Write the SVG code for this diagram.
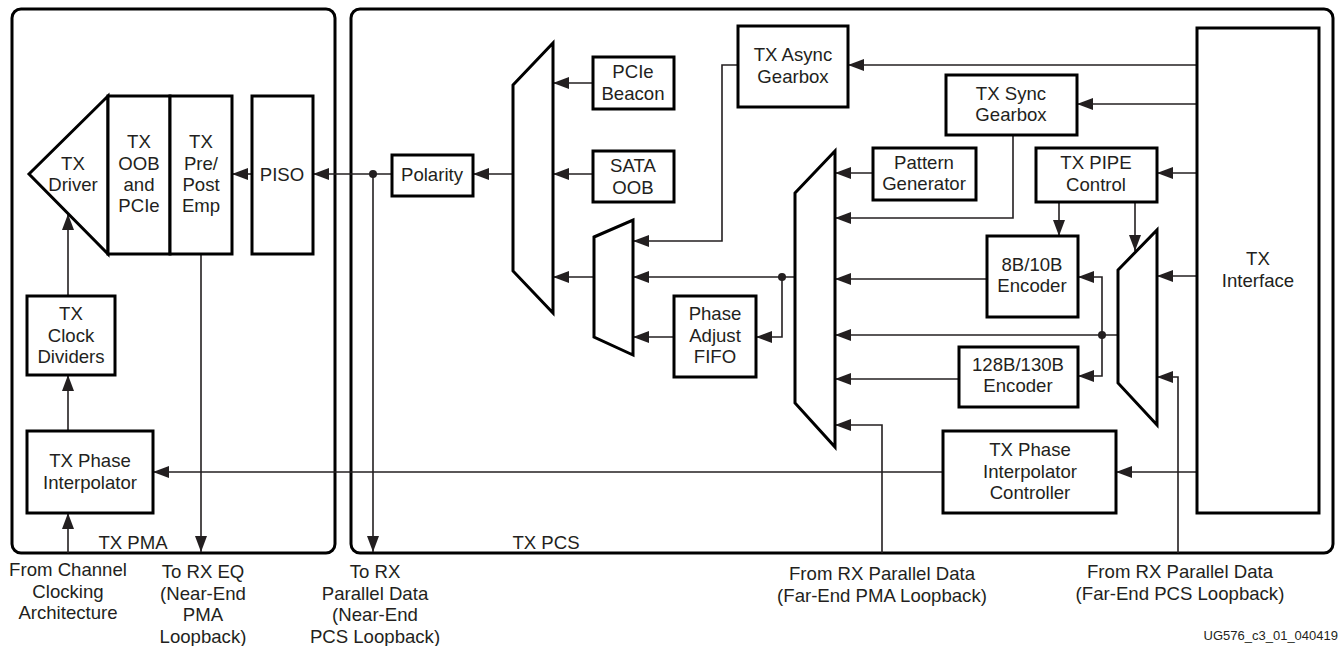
<svg xmlns="http://www.w3.org/2000/svg" width="1343" height="646" viewBox="0 0 1343 646">
<style>
.c{fill:none;stroke:#000;stroke-width:3}
.b{fill:#fff;stroke:#000;stroke-width:3}
.w{fill:none;stroke:#231f20;stroke-width:1.6}
text{font-family:"Liberation Sans",Arial,sans-serif;font-size:18.6px;fill:#231f20;text-anchor:middle}
.dot{fill:#231f20}
</style>
<defs>
<marker id="ah" markerUnits="userSpaceOnUse" markerWidth="16" markerHeight="12" refX="16" refY="6" orient="auto">
<path d="M0,0 L16,6 L0,12 z" fill="#231f20"/>
</marker>
</defs>
<rect width="1343" height="646" fill="#fff"/>
<g id="pma">
<rect class="c" x="12" y="9" width="323" height="544" rx="9"/>
<text x="133" y="549">TX PMA</text>
</g>
<g id="pcs">
<rect class="c" x="351" y="9" width="982" height="544" rx="9"/>
<text x="546" y="549">TX PCS</text>
</g>
<g id="connectors">
<path class="w" marker-end="url(#ah)" d="M392,174 L313,174"/>
<path class="w" marker-end="url(#ah)" d="M513,174 L473,174"/>
<path class="w" marker-end="url(#ah)" d="M252,174 L232,174"/>
<path class="w" marker-end="url(#ah)" d="M201,254 L201,552"/>
<path class="w" marker-end="url(#ah)" d="M373,174 L373,552"/>
<circle class="dot" cx="373" cy="174" r="4"/>
<path class="w" marker-end="url(#ah)" d="M68,296 L68,214"/>
<path class="w" marker-end="url(#ah)" d="M68,431 L68,375"/>
<path class="w" marker-end="url(#ah)" d="M68,553 L68,513"/>
<path class="w" marker-end="url(#ah)" d="M593,83 L553,83"/>
<path class="w" marker-end="url(#ah)" d="M593,174 L553,174"/>
<path class="w" marker-end="url(#ah)" d="M594,277 L553,277"/>
<path class="w" marker-end="url(#ah)" d="M738,65 L722,65 L722,241 L633,241"/>
<path class="w" marker-end="url(#ah)" d="M1197,65 L848,65"/>
<path class="w" marker-end="url(#ah)" d="M1197,104 L1077,104"/>
<path class="w" marker-end="url(#ah)" d="M1013,135 L1013,218 L835,218"/>
<path class="w" marker-end="url(#ah)" d="M873,173 L835,173"/>
<path class="w" marker-end="url(#ah)" d="M795,277 L633,277"/>
<circle class="dot" cx="782" cy="277" r="4"/>
<path class="w" marker-end="url(#ah)" d="M782,277 L782,337 L756,337"/>
<path class="w" marker-end="url(#ah)" d="M674,337 L633,337"/>
<path class="w" marker-end="url(#ah)" d="M987,279 L835,279"/>
<path class="w" marker-end="url(#ah)" d="M1118,335 L835,335"/>
<circle class="dot" cx="1102" cy="335" r="4"/>
<path class="w" marker-end="url(#ah)" d="M1102,335 L1102,277 L1078,277"/>
<path class="w" marker-end="url(#ah)" d="M1102,335 L1102,376 L1078,376"/>
<path class="w" marker-end="url(#ah)" d="M959,379 L835,379"/>
<path class="w" marker-end="url(#ah)" d="M882,553 L882,425 L835,425"/>
<path class="w" marker-end="url(#ah)" d="M1197,173 L1157,173"/>
<path class="w" marker-end="url(#ah)" d="M1059,202 L1059,236"/>
<path class="w" marker-end="url(#ah)" d="M1135,202 L1135,251"/>
<path class="w" marker-end="url(#ah)" d="M1197,276 L1157,276"/>
<path class="w" marker-end="url(#ah)" d="M1178,553 L1178,377 L1157,377"/>
<path class="w" marker-end="url(#ah)" d="M1197,472 L1116,472"/>
<path class="w" marker-end="url(#ah)" d="M943,472 L153,472"/>
</g>
<g id="tx-driver">
<polygon class="b" points="29,174 108,96 108,254"/>
<text x="73" y="170">TX</text>
<text x="73" y="191">Driver</text>
</g>
<g id="tx-oob">
<rect class="b" x="108" y="96" width="62" height="158"/>
<text x="139" y="148">TX</text>
<text x="139" y="170">OOB</text>
<text x="139" y="191">and</text>
<text x="139" y="212">PCIe</text>
</g>
<g id="tx-prepost">
<rect class="b" x="170" y="96" width="62" height="158"/>
<text x="201" y="148">TX</text>
<text x="201" y="170">Pre/</text>
<text x="201" y="191">Post</text>
<text x="201" y="212">Emp</text>
</g>
<g id="piso">
<rect class="b" x="252" y="96" width="61" height="158"/>
<text x="282" y="181">PISO</text>
</g>
<g id="tx-clock-dividers">
<rect class="b" x="27" y="296" width="88" height="79"/>
<text x="71" y="320">TX</text>
<text x="71" y="341.5">Clock</text>
<text x="71" y="363">Dividers</text>
</g>
<g id="tx-phase-interpolator">
<rect class="b" x="27" y="431" width="126" height="82"/>
<text x="90" y="467">TX Phase</text>
<text x="90" y="489">Interpolator</text>
</g>
<g id="polarity">
<rect class="b" x="392" y="155" width="81" height="41"/>
<text x="432" y="181">Polarity</text>
</g>
<g id="mux1">
<polygon class="b" points="513,85 553,43 553,313 513,271"/>
</g>
<g id="pcie-beacon">
<rect class="b" x="593" y="57" width="81" height="52"/>
<text x="633" y="78">PCIe</text>
<text x="633" y="100">Beacon</text>
</g>
<g id="sata-oob">
<rect class="b" x="593" y="151" width="81" height="51"/>
<text x="633" y="172">SATA</text>
<text x="633" y="193.5">OOB</text>
</g>
<g id="mux2">
<polygon class="b" points="594,237 633,220 633,355 594,337"/>
</g>
<g id="phase-adjust-fifo">
<rect class="b" x="674" y="296" width="82" height="81"/>
<text x="715" y="320">Phase</text>
<text x="715" y="342">Adjust</text>
<text x="715" y="363">FIFO</text>
</g>
<g id="tx-async-gearbox">
<rect class="b" x="738" y="26" width="110" height="81"/>
<text x="793" y="61">TX Async</text>
<text x="793" y="83">Gearbox</text>
</g>
<g id="mux3">
<polygon class="b" points="795,193 835,151 835,447 795,403"/>
</g>
<g id="pattern-generator">
<rect class="b" x="873" y="148" width="103" height="52"/>
<text x="924" y="169">Pattern</text>
<text x="924" y="190">Generator</text>
</g>
<g id="tx-sync-gearbox">
<rect class="b" x="946" y="75" width="131" height="60"/>
<text x="1011" y="99.5">TX Sync</text>
<text x="1011" y="121">Gearbox</text>
</g>
<g id="tx-pipe-control">
<rect class="b" x="1036" y="148" width="121" height="54"/>
<text x="1096" y="169">TX PIPE</text>
<text x="1096" y="191">Control</text>
</g>
<g id="enc-8b10b">
<rect class="b" x="987" y="236" width="91" height="81"/>
<text x="1032" y="271">8B/10B</text>
<text x="1032" y="292">Encoder</text>
</g>
<g id="enc-128b130b">
<rect class="b" x="959" y="347" width="119" height="60"/>
<text x="1018" y="371">128B/130B</text>
<text x="1018" y="392">Encoder</text>
</g>
<g id="mux4">
<polygon class="b" points="1118,270 1157,230 1157,425 1118,383"/>
</g>
<g id="tx-pi-controller">
<rect class="b" x="943" y="431" width="173" height="82"/>
<text x="1030" y="456">TX Phase</text>
<text x="1030" y="478">Interpolator</text>
<text x="1030" y="499">Controller</text>
</g>
<g id="tx-interface">
<rect class="b" x="1197" y="28" width="122" height="485"/>
<text x="1258" y="265">TX</text>
<text x="1258" y="287">Interface</text>
</g>
<g id="labels">
<text x="68" y="576">From Channel</text>
<text x="68" y="597.5">Clocking</text>
<text x="68" y="619">Architecture</text>
<text x="203" y="578">To RX EQ</text>
<text x="203" y="599.5">(Near-End</text>
<text x="203" y="621">PMA</text>
<text x="203" y="642.5">Loopback)</text>
<text x="375" y="578">To RX</text>
<text x="375" y="599.5">Parallel Data</text>
<text x="375" y="621">(Near-End</text>
<text x="375" y="642.5">PCS Loopback)</text>
<text x="882" y="580">From RX Parallel Data</text>
<text x="882" y="601.5">(Far-End PMA Loopback)</text>
<text x="1180" y="578">From RX Parallel Data</text>
<text x="1180" y="599.5">(Far-End PCS Loopback)</text>
<text x="1338" y="640" style="font-size:13px;text-anchor:end">UG576_c3_01_040419</text>
</g>
</svg>
